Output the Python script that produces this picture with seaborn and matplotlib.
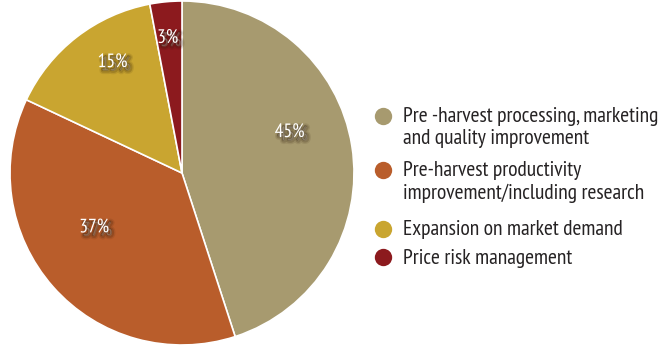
import matplotlib
matplotlib.use("Agg")
import matplotlib.pyplot as plt
import matplotlib.patheffects as pe
from matplotlib import font_manager
import numpy as np
import seaborn as sns

# Share of funding by area
categories = [
    "Pre -harvest processing, marketing\nand quality improvement",
    "Pre-harvest productivity\nimprovement/including research",
    "Expansion on market demand",
    "Price risk management",
]
shares = [45, 37, 15, 3]
pct_labels = ["45%", "37%", "15%", "3%"]
colors = ["#A79A6F", "#B95D2B", "#C9A530", "#8C1A1E"]

sns.set_theme(style="white")
names = {f.name for f in font_manager.fontManager.ttflist}
family = [f for f in ["PT Sans Narrow", "Roboto Condensed", "DejaVu Sans"] if f in names]
plt.rcParams["font.family"] = family

W, H = 670, 345
fig = plt.figure(figsize=(W / 100, H / 100), dpi=100)
fig.patch.set_facecolor("white")

# pie axes: centre (182,173) px, radius 172 px
cx, cy, r = 182, 173, 172
ax = fig.add_axes([(cx - r) / W, (H - cy - r) / H, 2 * r / W, 2 * r / H])
wedges, _ = ax.pie(
    shares,
    colors=colors,
    startangle=90,
    counterclock=False,
    radius=1.0,
    wedgeprops=dict(edgecolor="white", linewidth=1.2),
)
ax.set_xlim(-1, 1)
ax.set_ylim(-1, 1)
ax.set_aspect("equal")
ax.axis("off")

# percentage labels with a soft drop shadow
angle_shift = [11.8, -9.6, -5.8, 0.6]
label_r = [0.67, 0.60, 0.76, 0.79]
shade = "#2a1808"
shadow = [
    pe.Stroke(linewidth=5, foreground=shade, alpha=0.10, offset=(2.5, -2.5)),
    pe.Stroke(linewidth=3, foreground=shade, alpha=0.18, offset=(2.5, -2.5)),
    pe.Stroke(linewidth=1, foreground=shade, alpha=0.30, offset=(2, -2)),
    pe.Normal(),
]
for w, lab, da, rr in zip(wedges, pct_labels, angle_shift, label_r):
    a = np.deg2rad((w.theta1 + w.theta2) / 2 + da)
    ax.text(rr * np.cos(a), rr * np.sin(a), lab, ha="center", va="center",
            color="white", fontsize=14, path_effects=shadow)

# legend drawn in pixel coordinates, one baseline per text line
lg = fig.add_axes([0, 0, 1, 1])
lg.set_xlim(0, W)
lg.set_ylim(H, 0)
lg.axis("off")
lg.patch.set_alpha(0)
marker_y = [115.5, 170, 228.7, 257]
line_step = 22.5
for c, lab, y in zip(colors, categories, marker_y):
    lg.plot([383], [y], "o", color=c, markersize=12.5, markeredgewidth=0)
    for k, part in enumerate(lab.split("\n")):
        lg.text(403, y + 6.5 + k * line_step, part, ha="left", va="baseline",
                color="#262324", fontsize=15.5)

fig.savefig("out.png", dpi=100)
